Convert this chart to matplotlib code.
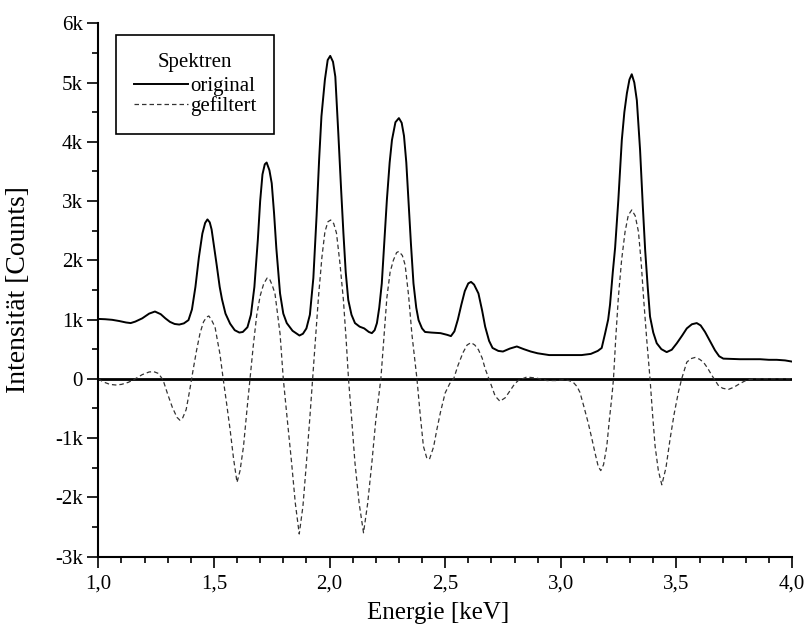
import matplotlib
matplotlib.use('Agg')
import matplotlib.pyplot as plt
import numpy as np
from matplotlib.ticker import FixedLocator, MultipleLocator

# energy axis [keV] and counts of the measured spectrum
energy_orig = [1.00, 1.03, 1.06, 1.09, 1.12, 1.14, 1.16, 1.19, 1.22, 1.245,
               1.27, 1.29, 1.31, 1.33, 1.35, 1.37, 1.39, 1.405, 1.42, 1.435,
               1.45, 1.462, 1.472, 1.482, 1.49, 1.50, 1.512, 1.525, 1.535, 1.55,
               1.57, 1.59, 1.61, 1.625, 1.645, 1.66, 1.675, 1.69, 1.70, 1.71,
               1.72, 1.728, 1.74, 1.75, 1.76, 1.77, 1.786, 1.80, 1.815, 1.84,
               1.87, 1.885, 1.90, 1.915, 1.93, 1.944, 1.955, 1.965, 1.98, 1.992,
               2.003, 2.015, 2.025, 2.038, 2.05, 2.06, 2.07, 2.081, 2.095, 2.11,
               2.13, 2.15, 2.17, 2.183, 2.195, 2.205, 2.215, 2.226, 2.237, 2.248,
               2.26, 2.27, 2.285, 2.30, 2.312, 2.322, 2.332, 2.341, 2.352, 2.363,
               2.375, 2.385, 2.40, 2.413, 2.44, 2.48, 2.51, 2.525, 2.54, 2.555,
               2.57, 2.585, 2.60, 2.612, 2.625, 2.644, 2.66, 2.673, 2.69, 2.705,
               2.73, 2.75, 2.78, 2.81, 2.84, 2.87, 2.90, 2.95, 3.00, 3.05,
               3.09, 3.13, 3.16, 3.177, 3.192, 3.205, 3.213, 3.225, 3.235, 3.249,
               3.264, 3.275, 3.286, 3.297, 3.307, 3.318, 3.329, 3.343, 3.355, 3.365,
               3.376, 3.386, 3.40, 3.415, 3.435, 3.458, 3.48, 3.502, 3.525, 3.545,
               3.567, 3.588, 3.605, 3.624, 3.645, 3.667, 3.685, 3.703, 3.74, 3.775,
               3.82, 3.862, 3.90, 3.934, 3.97, 4.00]
counts_orig = [1010, 1005, 995, 975, 950, 940, 965, 1020, 1100, 1135,
               1090, 1020, 960, 925, 915, 935, 990, 1170, 1550, 2050,
               2450, 2630, 2690, 2640, 2520, 2250, 1920, 1550, 1340, 1100,
               930, 820, 780, 790, 870, 1080, 1550, 2350, 3000, 3450,
               3620, 3650, 3520, 3300, 2800, 2200, 1440, 1100, 940, 810,
               730, 760, 850, 1080, 1700, 2750, 3700, 4430, 5050, 5380,
               5450, 5350, 5100, 4140, 3200, 2460, 1800, 1330, 1080, 940,
               880, 850, 790, 770, 820, 940, 1200, 1610, 2300, 3020,
               3650, 4030, 4330, 4400, 4320, 4100, 3650, 3020, 2280, 1610,
               1200, 990, 850, 790, 780, 770, 740, 720, 800, 1000,
               1250, 1480, 1610, 1635, 1590, 1440, 1150, 880, 640, 520,
               470, 460, 510, 545, 500, 460, 430, 400, 400, 400,
               400, 420, 470, 520, 770, 1000, 1250, 1800, 2210, 3020,
               4030, 4500, 4820, 5050, 5140, 5000, 4700, 3860, 2900, 2170,
               1550, 1050, 780, 600, 500, 450, 490, 600, 730, 850,
               920, 940, 900, 790, 640, 480, 380, 340, 335, 330,
               330, 330, 320, 320, 310, 290]

# top-hat filtered spectrum
energy_filt = [1.00, 1.02, 1.05, 1.075, 1.10, 1.13, 1.16, 1.19, 1.22, 1.24,
               1.26, 1.28, 1.30, 1.32, 1.34, 1.353, 1.365, 1.38, 1.395, 1.41,
               1.425, 1.44, 1.455, 1.468, 1.478, 1.49, 1.505, 1.515, 1.526, 1.54,
               1.555, 1.57, 1.585, 1.60, 1.613, 1.628, 1.642, 1.656, 1.67, 1.685,
               1.70, 1.715, 1.73, 1.74, 1.752, 1.764, 1.775, 1.786, 1.80, 1.815,
               1.836, 1.852, 1.869, 1.885, 1.90, 1.915, 1.927, 1.94, 1.952, 1.967,
               1.98, 1.993, 2.005, 2.018, 2.03, 2.045, 2.06, 2.072, 2.082, 2.095,
               2.11, 2.128, 2.147, 2.165, 2.183, 2.20, 2.222, 2.235, 2.248, 2.262,
               2.276, 2.29, 2.30, 2.315, 2.327, 2.342, 2.356, 2.378, 2.392, 2.406,
               2.42, 2.432, 2.45, 2.464, 2.48, 2.50, 2.52, 2.537, 2.555, 2.577,
               2.595, 2.612, 2.628, 2.644, 2.66, 2.673, 2.695, 2.716, 2.737, 2.76,
               2.781, 2.80, 2.816, 2.853, 2.896, 2.94, 2.98, 3.011, 3.035, 3.054,
               3.07, 3.083, 3.10, 3.119, 3.135, 3.148, 3.162, 3.173, 3.185, 3.199,
               3.21, 3.221, 3.228, 3.238, 3.249, 3.263, 3.278, 3.292, 3.307, 3.322,
               3.336, 3.348, 3.358, 3.372, 3.386, 3.397, 3.408, 3.422, 3.437, 3.455,
               3.473, 3.49, 3.509, 3.523, 3.545, 3.563, 3.581, 3.60, 3.617, 3.635,
               3.653, 3.668, 3.681, 3.70, 3.725, 3.75, 3.775, 3.80, 3.818, 3.85,
               3.90, 4.00]
counts_filt = [0, -50, -95, -105, -95, -60, 0, 70, 115, 120,
               90, -20, -260, -480, -650, -700, -660, -520, -200, 150,
               480, 770, 960, 1040, 1060, 990, 870, 650, 420, 0,
               -420, -860, -1350, -1750, -1550, -1140, -560, 0, 550, 1070,
               1400, 1600, 1700, 1690, 1580, 1440, 1100, 760, 0, -600,
               -1420, -2100, -2620, -2150, -1420, -650, 0, 700, 1370, 2050,
               2480, 2650, 2680, 2620, 2460, 1950, 1330, 650, 0, -640,
               -1420, -2100, -2600, -2100, -1420, -700, 0, 680, 1370, 1800,
               2000, 2130, 2150, 2080, 1920, 1400, 760, 0, -600, -1140,
               -1330, -1360, -1150, -860, -560, -240, -80, 0, 220, 440,
               570, 610, 570, 490, 350, 170, -60, -290, -380, -320,
               -200, -90, -30, 30, 10, -30, -30, -20, -30, -60,
               -130, -230, -470, -750, -1020, -1250, -1480, -1550, -1450, -1140,
               -700, -300, 0, 700, 1370, 2000, 2480, 2760, 2850, 2750,
               2480, 1950, 1370, 650, 0, -600, -1140, -1550, -1790, -1500,
               -1010, -600, -220, 0, 280, 340, 360, 330, 280, 180,
               60, -30, -110, -160, -180, -140, -80, -30, -10, 0,
               0, 0]

y_ticks = [-3000, -2000, -1000, 0, 1000, 2000, 3000, 4000, 5000, 6000]
y_labels = ['-3k', '-2k', '-1k', '0', '1k', '2k', '3k', '4k', '5k', '6k']
x_ticks = [1.0, 1.5, 2.0, 2.5, 3.0, 3.5, 4.0]
x_labels = ['1,0', '1,5', '2,0', '2,5', '3,0', '3,5', '4,0']

plt.rcParams['font.family'] = ['Liberation Serif', 'DejaVu Serif']

fig = plt.figure(figsize=(8.07, 6.32), dpi=100)
ax = fig.add_axes([98.3 / 807, 1 - 556.5 / 632, 693.7 / 807, 533.2 / 632])

ax.axhline(0, color='black', lw=2.0, zorder=1)
ax.plot(energy_orig, counts_orig, color='black', lw=1.4, label='original', zorder=3)
ax.plot(energy_filt, counts_filt, color='#333333', lw=0.9, dashes=(3.6, 2.4),
        label='gefiltert', zorder=2)

ax.set_xlim(1.0, 4.0)
ax.set_ylim(-3000, 6000)

for side in ('top', 'right'):
    ax.spines[side].set_visible(False)
for side in ('left', 'bottom'):
    ax.spines[side].set_linewidth(1.5)

ax.xaxis.set_major_locator(FixedLocator(x_ticks))
ax.set_xticklabels(x_labels)
ax.xaxis.set_minor_locator(MultipleLocator(0.1))
ax.yaxis.set_major_locator(FixedLocator(y_ticks))
ax.set_yticklabels(y_labels)
ax.yaxis.set_minor_locator(MultipleLocator(500))

ax.tick_params(which='major', direction='out', length=8, width=1.2, labelsize=15)
ax.tick_params(which='minor', direction='out', length=4.5, width=1.2)
ax.tick_params(axis='x', which='major', pad=5)
ax.tick_params(axis='y', which='major', pad=3)

ax.set_xlabel('Energie [keV]', fontsize=18)
ax.set_ylabel('Intensität [Counts]', fontsize=20)
ax.xaxis.set_label_coords(0.49, -0.085)
ax.yaxis.set_label_coords(-0.097, 0.5)

leg = ax.legend(title='Spektren', loc='upper left',
                bbox_to_anchor=(116 / 807, 1 - 35 / 632),
                bbox_transform=fig.transFigure, fontsize=15, title_fontsize=15,
                frameon=True, fancybox=False, edgecolor='black', framealpha=1,
                borderpad=0.85, borderaxespad=0, handlelength=2.6,
                handletextpad=0.1, labelspacing=0.0)
leg.get_frame().set_linewidth(1.2)
# a bit more room between the title and the entries
leg._legend_box.sep = 3.5

plt.savefig('out.png', dpi=100)
